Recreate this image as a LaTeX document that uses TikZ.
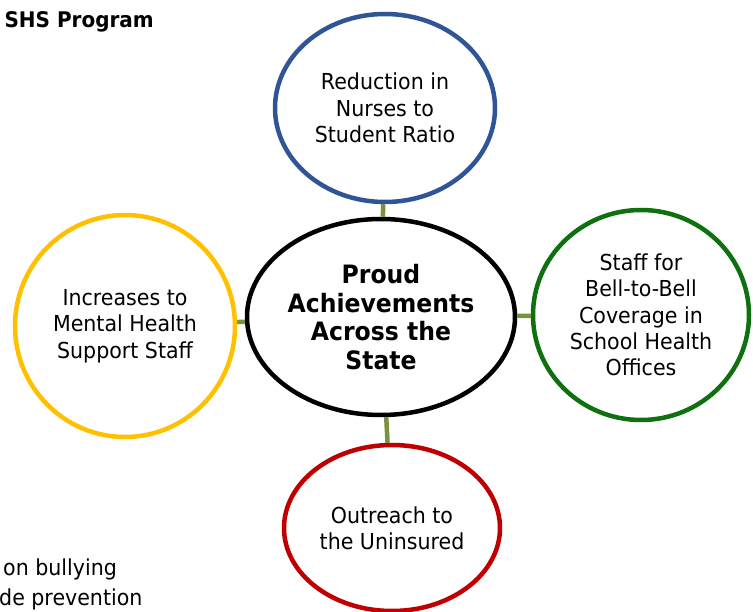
\documentclass[tikz,border=0pt]{standalone}
\usepackage{fontspec}
\setmainfont{DejaVu Sans}[FakeStretch=0.935]
\newfontfamily\bfnt{DejaVu Sans}[FakeStretch=0.93]
\usetikzlibrary{shapes.geometric}
\definecolor{cblue}{HTML}{2F5597}
\definecolor{cyellow}{HTML}{FFC000}
\definecolor{cgreen}{HTML}{0E700E}
\definecolor{cred}{HTML}{C00000}
\definecolor{linkgreen}{HTML}{77933C}
\begin{document}
\begin{tikzpicture}[x=1pt,y=-1pt,
  bub/.style={ellipse, draw, line width=4.5pt, fill=white, inner sep=0pt, align=center,
    font=\fontsize{22}{26.3}\selectfont},
  hub/.style={bub, font=\bfnt\bfseries\fontsize{25.3}{28.5}\selectfont},
  link/.style={draw=linkgreen, line width=4.5pt},
  side/.style={inner sep=0pt, font=\fontsize{22}{26}\selectfont}]
\useasboundingbox (0,0) rectangle (753,612);
\node[hub, draw=black, minimum width=268pt, minimum height=196pt] (hubn) at (381,317)
  {Proud\\Achievements\\Across the\\State};
\node[bub, draw=cblue, minimum width=220pt, minimum height=188pt] (nurses) at (385,108)
  {Reduction in\\Nurses to\\Student Ratio};
\node[bub, draw=cyellow, minimum width=220pt, minimum height=222pt] (mental) at (125,326)
  {Increases to\\Mental Health\\Support Staff};
\node[bub, draw=cgreen, minimum width=216pt, minimum height=210pt] (staff) at (641,315)
  {Staff for\\Bell-to-Bell\\Coverage in\\School Health\\Offices};
\node[bub, draw=cred, minimum width=216pt, minimum height=166pt] (outreach) at (392,528)
  {Outreach to\\the Uninsured};
\draw[link] (nurses) -- (hubn);
\draw[link] (mental) -- (hubn);
\draw[link] (hubn) -- (staff);
\draw[link] (hubn) -- (outreach);
\node[side, anchor=base east, font=\bfnt\bfseries\fontsize{21.5}{26}\selectfont] (title) at (154,28) {SHS Program};
\node[side, anchor=base west] (b1) at (3,575) {on bullying};
\node[side, anchor=base west] (b2) at (-1,605) {de prevention};
\end{tikzpicture}
\end{document}
